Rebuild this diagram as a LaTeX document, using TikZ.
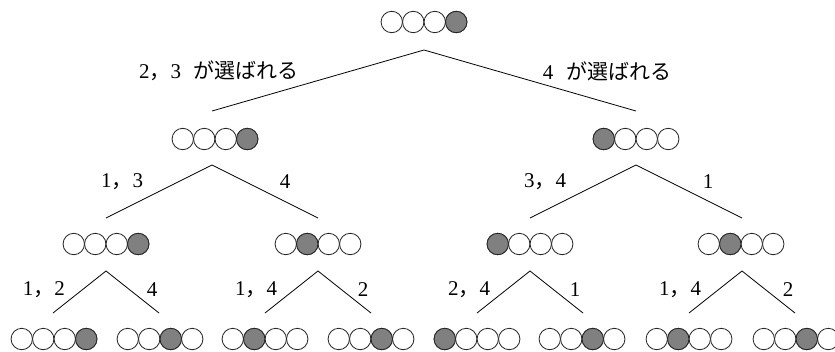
\documentclass[tikz,border=0pt]{standalone}
\usepackage{fontspec}
\setmainfont{Liberation Serif}
\newfontfamily\cjk{Noto Sans CJK JP}
\usetikzlibrary{calc}
\newcommand\cm{{\cjk ，}}
\newcommand\gap{\hspace{0.6em}}
\tikzset{
  grpbox/.style={minimum width=86pt,minimum height=22pt,inner sep=0pt,draw=none},
  ball/.style={draw=black!85,line width=0.8pt,fill=white},
  shaded/.style={fill=black!50},
  leg/.style={draw=black,line width=0.8pt},
  lbl/.style={inner sep=0pt,font=\fontsize{21}{23}\selectfont},
}
\newcommand\grp[4]{%
  \node[grpbox] (#1) at (#2,#3) {};
  \foreach \i in {1,2,3,4}{%
    \draw[ball] ($(#1.center)+({(\i-2.5)*21.5},0)$) circle[radius=10.7pt];
  }
  \draw[ball,shaded] ($(#1.center)+({(#4-2.5)*21.5},0)$) circle[radius=10.7pt];
}
\begin{document}
\begin{tikzpicture}[x=1pt,y=-1pt]
\useasboundingbox (0,0) rectangle (835,351);
\clip (0,0) rectangle (835,351);
% groups
\grp{g0}{424}{22}{4}
\grp{g1}{215}{139}{4}
\grp{g2}{636}{139}{1}
\grp{g11}{106}{244}{4}
\grp{g12}{318}{244}{2}
\grp{g21}{530}{244}{1}
\grp{g22}{741}{244}{2}
\grp{h1}{54}{339}{4}
\grp{h2}{160}{339}{3}
\grp{h3}{265}{339}{2}
\grp{h4}{371}{339}{3}
\grp{h5}{477}{339}{1}
\grp{h6}{582}{339}{3}
\grp{h7}{689}{339}{2}
\grp{h8}{796}{339}{3}
% apexes and leg ends
\coordinate (a0) at (424,50);
\coordinate (a0l) at (212,111);
\coordinate (a0r) at (636,111);
\coordinate (a1) at (212,165);
\coordinate (a1l) at (106,218);
\coordinate (a1r) at (318,218);
\coordinate (a2) at (636,165);
\coordinate (a2l) at (530,218);
\coordinate (a2r) at (742,218);
\foreach \n/\x in {b1/106,b2/318,b3/530,b4/742}{
  \coordinate (\n) at (\x,271);
  \coordinate (\n l) at (\x-53,313);
  \coordinate (\n r) at (\x+53,313);
}
\draw[leg] (a0l) -- (a0) -- (a0r);
\draw[leg] (a1l) -- (a1) -- (a1r);
\draw[leg] (a2l) -- (a2) -- (a2r);
\foreach \n in {b1,b2,b3,b4}{
  \draw[leg] (\n l) -- (\n) -- (\n r);
}
% labels
\node[lbl] (t1) at (219,71) {2\cm3\gap{\cjk が選ばれる}};
\node[lbl] (t2) at (607,71) {4\gap{\cjk が選ばれる}};
\node[lbl] (u1) at (122,182) {1\cm3};
\node[lbl] (u2) at (285,182) {4};
\node[lbl] (u3) at (545,182) {3\cm4};
\node[lbl] (u4) at (708,182) {1};
\node[lbl] (v1) at (44,290) {1\cm2};
\node[lbl] (v2) at (152,290) {4};
\node[lbl] (v3) at (256,290) {1\cm4};
\node[lbl] (v4) at (363,290) {2};
\node[lbl] (v5) at (469,290) {2\cm4};
\node[lbl] (v6) at (575,290) {1};
\node[lbl] (v7) at (680,290) {1\cm4};
\node[lbl] (v8) at (788,290) {2};
\end{tikzpicture}
\end{document}
